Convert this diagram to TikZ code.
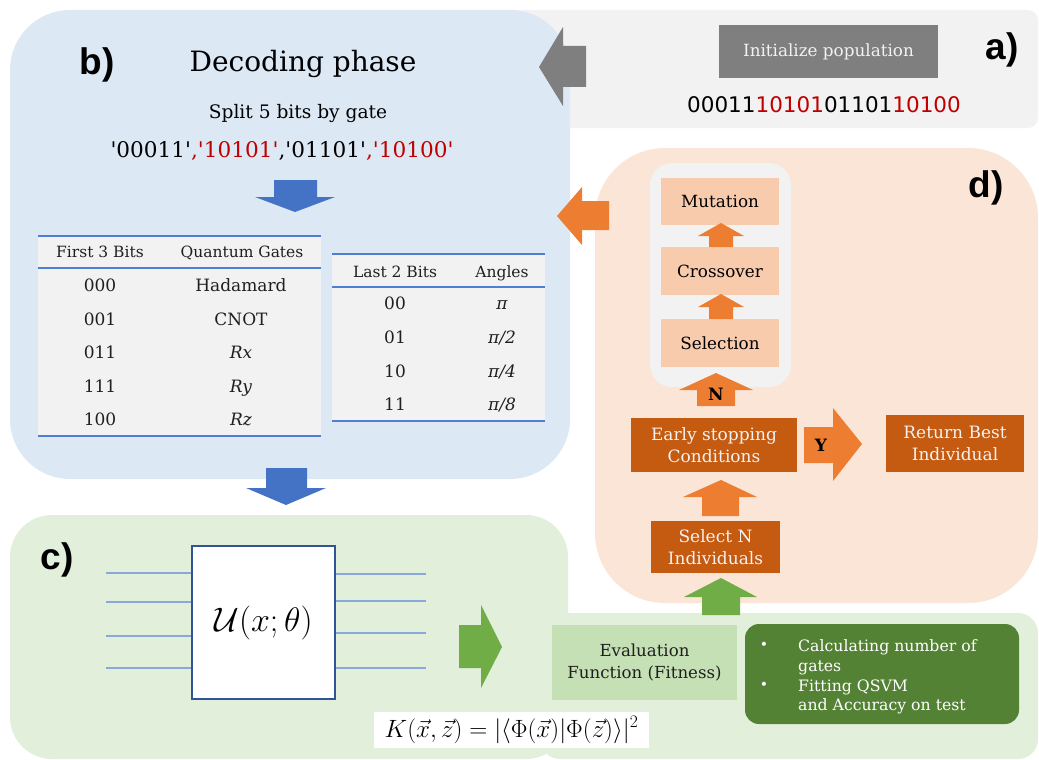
\RequirePackage{fix-cm}
\documentclass[tikz,border=0pt]{standalone}
\usepackage[no-math]{fontspec}
\setmainfont{DejaVu Serif}
\newfontfamily\tagfont{Liberation Sans}
\newfontfamily\bitfont{DejaVu Sans}

\definecolor{panelblue}{HTML}{DDE8F5}
\definecolor{panelgray}{HTML}{F2F2F2}
\definecolor{panelorange}{HTML}{FBE5D6}
\definecolor{panelgreen}{HTML}{E2EFDA}
\definecolor{initgray}{HTML}{7F7F7F}
\definecolor{bitred}{HTML}{C00000}
\definecolor{arrowblue}{HTML}{4472C4}
\definecolor{ruleblue}{HTML}{4F7FD2}
\definecolor{arroworange}{HTML}{ED7D31}
\definecolor{boxorange}{HTML}{C55A11}
\definecolor{boxpeach}{HTML}{F8CBAD}
\definecolor{arrowgreen}{HTML}{70AD47}
\definecolor{boxgreen}{HTML}{C5E0B4}
\definecolor{darkgreen}{HTML}{548235}
\definecolor{wireblue}{HTML}{8AA8DC}
\definecolor{frameblue}{HTML}{2F5597}
\definecolor{inkgray}{HTML}{1F1F1F}

\newcommand\pxfont[2]{\fontsize{#1}{#2}\selectfont}
\newcommand\sq{\textquotesingle}

\tikzset{
  tag/.style={font=\tagfont\bfseries\pxfont{37}{40}, inner sep=0pt},
  rule/.style={draw=ruleblue, line width=2pt},
  cell/.style={font=\pxfont{17}{20}, text=inkgray, inner sep=0pt, anchor=base},
  headcell/.style={font=\pxfont{15.5}{18}, text=inkgray, inner sep=0pt, anchor=base},
  peach/.style={fill=boxpeach, minimum width=118pt, minimum height=47pt, inner sep=0pt,
    font=\pxfont{16.8}{20}, text=black},
  rust/.style={fill=boxorange, text=panelgray, align=center, inner sep=0pt,
    font=\pxfont{17}{22}},
  wire/.style={draw=wireblue, line width=1.5pt},
  bullettext/.style={font=\pxfont{15.7}{19}, text=white, inner sep=0pt, anchor=base west},
}

\begin{document}
\begin{tikzpicture}[x=1pt, y=-1pt]
\useasboundingbox (0,0) rectangle (1039,760);

% ---------- panel a): initial population ----------
\fill[panelgray, rounded corners=10pt] (500,10) rectangle (1038,128);

% ---------- panel b): decoding ----------
\fill[panelblue, rounded corners=60pt] (10,10) rectangle (570,479);

% population feeds the decoder
\fill[initgray] (539,67) -- (563,27) -- (563,46) -- (586,46) -- (586,87)
  -- (563,87) -- (563,106) -- cycle;

\node[fill=initgray, text=panelgray, minimum width=219pt, minimum height=53pt,
  inner sep=0pt, font=\pxfont{16.8}{20}] (init) at (828.5,51.5) {Initialize population};
\node[tag] (taga) at (1002,50) {a)};
\node[font=\bitfont\pxfont{21.5}{24}, inner sep=0pt, anchor=base] (bits) at (824,112)
  {00011\textcolor{bitred}{10101}01101\textcolor{bitred}{10100}};

\node[tag] (tagb) at (97,65) {b)};
\node[font=\pxfont{28}{32}, inner sep=0pt, anchor=base] (dec) at (303,72) {Decoding phase};
\node[font=\pxfont{18.6}{22}, inner sep=0pt, anchor=base] (split) at (298,118) {Split 5 bits by gate};
\node[font=\pxfont{21.6}{24}, inner sep=0pt, anchor=base] (genes) at (282,157)
  {\sq00011\sq\textcolor{bitred}{,\sq10101\sq},\sq01101\sq\textcolor{bitred}{,\sq10100\sq}};

% split -> lookup tables
\fill[arrowblue] (295,212) -- (335,197) -- (317,197) -- (317,180) -- (274,180)
  -- (274,197) -- (255,197) -- cycle;

% gate table
\fill[panelgray] (38,236) rectangle (321,436);
\draw[rule] (38,236) -- (321,236) (38,268) -- (321,268) (38,436) -- (321,436);
\node[headcell] (ga) at (100,257) {First 3 Bits};
\node[headcell] (gb) at (242,257) {Quantum Gates};
\node[cell] (g1a) at (100,291) {000};  \node[cell] (g1b) at (241,291) {Hadamard};
\node[cell] (g2a) at (100,325) {001};  \node[cell] (g2b) at (241,325) {CNOT};
\node[cell] (g3a) at (100,358) {011};  \node[cell] (g3b) at (241,358) {\textit{Rx}};
\node[cell] (g4a) at (100,392) {111};  \node[cell] (g4b) at (241,392) {\textit{Ry}};
\node[cell] (g5a) at (100,425) {100};  \node[cell] (g5b) at (241,425) {\textit{Rz}};

% angle table
\fill[panelgray] (332,254) rectangle (545,421);
\draw[rule] (332,254) -- (545,254) (332,287) -- (545,287) (332,421) -- (545,421);
\node[headcell] (aa) at (395,277) {Last 2 Bits};
\node[headcell] (ab) at (502,277) {Angles};
\node[cell] (a1a) at (395,309) {00};  \node[cell] (a1b) at (502,309) {\textit{π}};
\node[cell] (a2a) at (395,343) {01};  \node[cell] (a2b) at (502,343) {\textit{π/2}};
\node[cell] (a3a) at (395,377) {10};  \node[cell] (a3b) at (502,377) {\textit{π/4}};
\node[cell] (a4a) at (395,410) {11};  \node[cell] (a4b) at (502,410) {\textit{π/8}};

% decoded circuit goes to the kernel
\fill[arrowblue] (286,505) -- (326,488) -- (307,488) -- (307,468) -- (266,468)
  -- (266,488) -- (246,488) -- cycle;

% ---------- panel d): genetic loop ----------
\fill[panelorange, rounded corners=70pt] (595,148) rectangle (1038,603);
\fill[panelgray, rounded corners=22pt] (650,163) rectangle (791,387);

% offspring go back to decoding
\fill[arroworange] (557,216) -- (582,187) -- (582,201) -- (609,201) -- (609,230)
  -- (582,230) -- (582,245) -- cycle;

\node[tag] (tagd) at (986,188) {d)};

\node[peach] (mut) at (720,201.5) {Mutation};
\node[peach, minimum height=48pt] (cross) at (720,271) {Crossover};
\node[peach, minimum height=48pt] (sel) at (720,343) {Selection};

\fill[arroworange] (721,223) -- (744,236) -- (733,236) -- (733,247) -- (709,247)
  -- (709,236) -- (698,236) -- cycle;
\fill[arroworange] (721,294) -- (744,307) -- (733,307) -- (733,319) -- (709,319)
  -- (709,307) -- (698,307) -- cycle;

% "no": keep evolving
\fill[arroworange] (716,373) -- (753,390) -- (735,390) -- (735,406) -- (697,406)
  -- (697,390) -- (679,390) -- cycle;
\node[font=\bfseries\pxfont{17}{20}, text=black, inner sep=0pt] (no) at (716,394) {N};

\node[rust, minimum width=166pt, minimum height=54pt] (stop) at (714,445)
  {Early stopping\\Conditions};

% "yes": finish
\fill[arroworange] (862,444) -- (833,408) -- (833,427) -- (804,427) -- (804,463)
  -- (833,463) -- (833,481) -- cycle;
\node[font=\bfseries\pxfont{17}{20}, text=black, inner sep=0pt] (yes) at (821,445) {Y};

\node[rust, minimum width=138pt, minimum height=57pt] (best) at (955,443.5)
  {Return Best\\Individual};

\fill[arroworange] (721,480) -- (757,497) -- (739,497) -- (739,516) -- (702,516)
  -- (702,497) -- (683,497) -- cycle;

\node[rust, minimum width=129pt, minimum height=52pt] (pick) at (715.5,547)
  {Select N\\Individuals};

% ---------- panel c): kernel evaluation ----------
\fill[panelgreen, rounded corners=42pt] (10,515) rectangle (568,759);
\fill[panelgreen, rounded corners=20pt] (540,613) rectangle (1038,759);

\fill[arrowgreen] (721,578) -- (757,597) -- (740,597) -- (740,615) -- (702,615)
  -- (702,597) -- (684,597) -- cycle;

\node[tag] (tagc) at (57,560) {c)};

\node[draw=frameblue, line width=1.8pt, fill=white, minimum width=143pt,
  minimum height=153pt, inner sep=0pt, font=\pxfont{34}{38}] (gate) at (263.5,622.5)
  {$\mathcal{U}(x;\theta)$};

\coordinate (in1) at (106,573);
\coordinate (in2) at (106,602);
\coordinate (in3) at (106,636);
\coordinate (in4) at (106,668);
\coordinate (out1) at (426,574);
\coordinate (out2) at (426,601);
\coordinate (out3) at (426,633);
\coordinate (out4) at (426,668);
\foreach \q in {1,2,3,4} {
  \draw[wire] (in\q) -- (in\q -| gate.west);
  \draw[wire] (out\q -| gate.east) -- (out\q);
}

\fill[arrowgreen] (502,647) -- (481,605) -- (481,625) -- (459,625) -- (459,668)
  -- (481,668) -- (481,688) -- cycle;

\node[fill=white, minimum width=275pt, minimum height=36pt, inner sep=0pt,
  font=\pxfont{25}{28}] (kern) at (511.5,730)
  {$K(\vec{x},\vec{z}) = |\langle \Phi(\vec{x})|\Phi(\vec{z})\rangle|^2$};

\node[fill=boxgreen, minimum width=185pt, minimum height=75pt, inner sep=0pt,
  align=center, font=\pxfont{16.6}{22}, text=inkgray] (eval) at (644.5,662.5)
  {Evaluation\\Function (Fitness)};

\node[fill=darkgreen, rounded corners=14pt, minimum width=274pt, minimum height=100pt,
  inner sep=0pt] (crit) at (882,674) {};
\node[font=\pxfont{14}{16}, text=white, inner sep=0pt] (dot1) at (764,646) {•};
\node[font=\pxfont{14}{16}, text=white, inner sep=0pt] (dot2) at (764,686) {•};
\node[bullettext] (c1) at (798,651) {Calculating number of};
\node[bullettext] (c2) at (798,671) {gates};
\node[bullettext] (c3) at (798,691) {Fitting QSVM};
\node[bullettext] (c4) at (798,710) {and Accuracy on test};

\end{tikzpicture}
\end{document}
